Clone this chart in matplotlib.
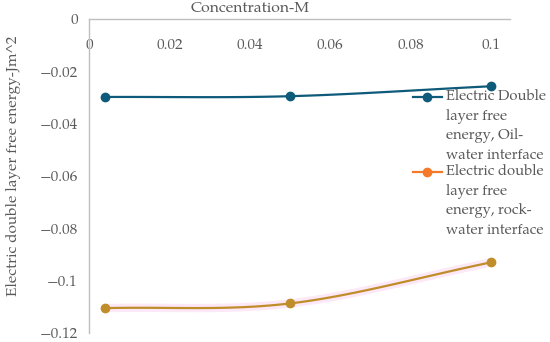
import numpy as np
import matplotlib
matplotlib.use("Agg")
import matplotlib.pyplot as plt
from matplotlib.lines import Line2D

conc = [0.004, 0.05, 0.1]
oil_water = [-0.0298, -0.0295, -0.0257]
rock_water = [-0.1105, -0.1087, -0.0930]
xticks = [0, 0.02, 0.04, 0.06, 0.08, 0.1]
xticklabels = ["0", "0.02", "0.04", "0.06", "0.08", "0.1"]
yticks = [0, -0.02, -0.04, -0.06, -0.08, -0.1, -0.12]
yticklabels = ["0", "\u22120.02", "\u22120.04", "\u22120.06", "\u22120.08", "\u22120.1", "\u22120.12"]
labels = ["Electric Double\nlayer free\nenergy, Oil-\nwater interface",
          "Electric double\nlayer free\nenergy, rock-\nwater interface"]

plt.rcParams['font.family'] = ["TeX Gyre Pagella", "DejaVu Serif"]
GRAY = "#595959"

def smooth(x, y, n=40):
    # Catmull-Rom rendering of the polyline (Excel-style smoothing)
    x = np.asarray(x, float); y = np.asarray(y, float)
    px = np.concatenate([[2*x[0]-x[1]], x, [2*x[-1]-x[-2]]])
    py = np.concatenate([[2*y[0]-y[1]], y, [2*y[-1]-y[-2]]])
    xs, ys = [], []
    t = np.linspace(0, 1, n)
    for i in range(1, len(px)-2):
        p0, p1, p2, p3 = [np.array([px[j], py[j]]) for j in (i-1, i, i+1, i+2)]
        for tt in t:
            pt = 0.5*((2*p1) + (-p0+p2)*tt + (2*p0-5*p1+4*p2-p3)*tt**2 + (-p0+3*p1-3*p2+p3)*tt**3)
            xs.append(pt[0]); ys.append(pt[1])
    return np.array(xs), np.array(ys)

fig = plt.figure(figsize=(5.5, 3.42), dpi=100)
ax = fig.add_axes([89/550, 1-333/342, (510-89)/550, (333-19)/342])

c1 = "#0E5A7A"
c2 = "#C08D2B"
sx, sy = smooth(conc, oil_water)
ax.plot(sx, sy, color=c1, lw=1.6, zorder=3)
ax.plot(conc, oil_water, 'o', color=c1, ms=6, zorder=4)
sx2, sy2 = smooth(conc, rock_water)
ax.plot(sx2, sy2, color="#FCE3F5", lw=6, alpha=0.8, zorder=2, solid_capstyle='butt')
ax.plot(sx2, sy2, color=c2, lw=1.6, zorder=3)
ax.plot(conc, rock_water, 'o', color=c2, ms=6, zorder=4)

ax.set_xlim(0, 0.1047)
ax.set_ylim(-0.12, 0)
ax.set_xticks(xticks)
ax.set_xticklabels(xticklabels)
ax.set_yticks(yticks)
ax.set_yticklabels(yticklabels)
for s in ["right", "bottom"]:
    ax.spines[s].set_visible(False)
for s in ["left", "top"]:
    ax.spines[s].set_color("#BFBFBF")
    ax.spines[s].set_linewidth(1.0)
ax.tick_params(axis='x', top=True, labeltop=True, bottom=False, labelbottom=False,
               length=0, pad=-13.5, labelsize=11, colors=GRAY)
ax.tick_params(axis='y', length=0, pad=8, labelsize=11, colors=GRAY)
for lbl in ax.get_xticklabels():
    lbl.set_verticalalignment('top')
ax.set_facecolor('none')

fig.text(250/550, 1-9/342, "Concentration-M", ha='center', va='center', fontsize=11.3, color=GRAY)
fig.text(14/550, 1-166/342, "Electric double layer free energy-Jm^2", rotation=90,
         ha='center', va='center', fontsize=11, color=GRAY)

# legend
legend_colors = [c1, "#F47A2A"]
legend_y = [97, 172]
for col, yy, lab in zip(legend_colors, legend_y, labels):
    fy = 1 - yy/342
    fig.add_artist(Line2D([413/550, 442/550], [fy, fy], color=col, lw=1.6, transform=fig.transFigure))
    fig.add_artist(Line2D([427/550], [fy], marker='o', ms=6, color=col, transform=fig.transFigure))
    fig.text(446/550, fy + 8/342, lab, ha='left', va='top', fontsize=10.6, color=GRAY, linespacing=1.42)

fig.savefig("out.png", dpi=100)
